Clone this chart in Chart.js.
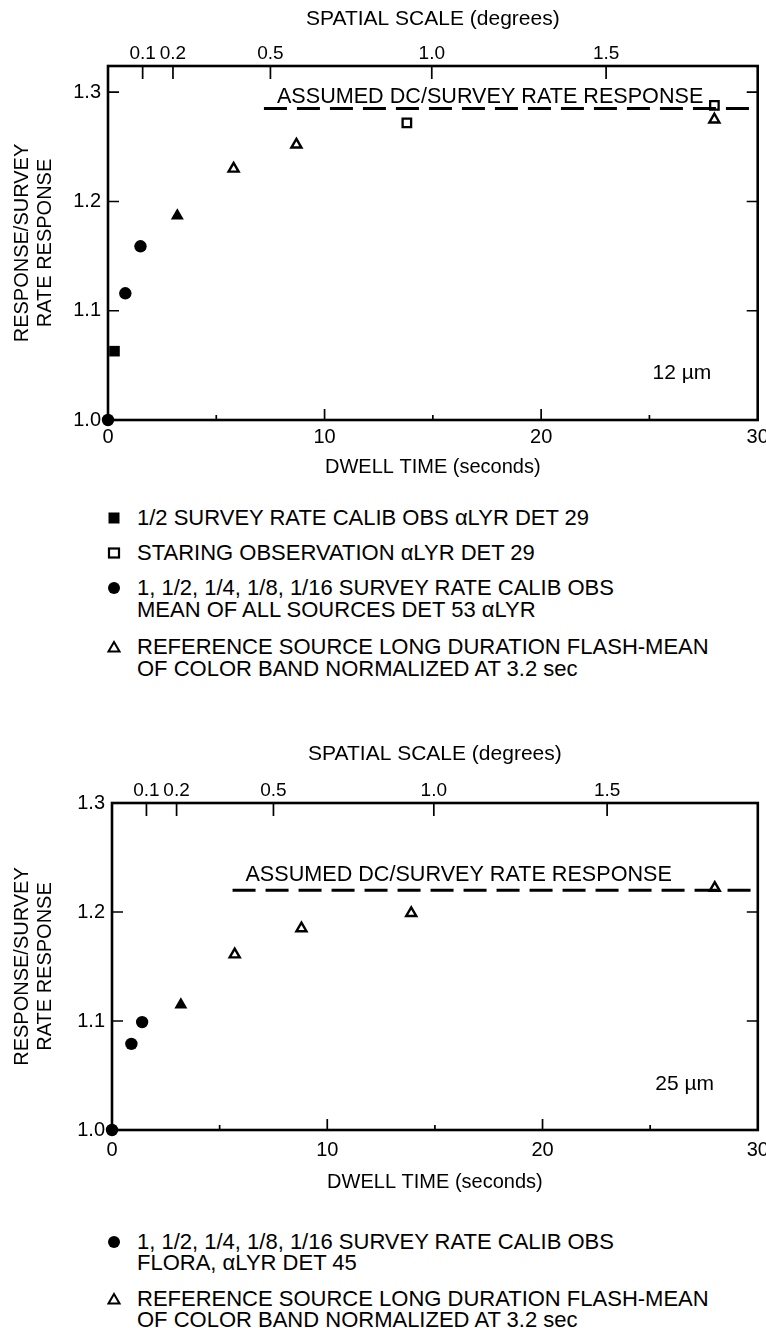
<!DOCTYPE html>
<html>
<head>
<meta charset="utf-8">
<script src="https://cdn.jsdelivr.net/npm/chart.js@4.4.1/dist/chart.umd.min.js"></script>
<style>
  body { margin: 0; background: #fff; width: 766px; height: 1328px; position: relative; overflow: hidden;
         font-family: 'Liberation Sans', Arial, Helvetica, sans-serif; color: #000; }
  canvas { position: absolute; left: 0; }
  .lg { position: absolute; left: 137px; font-size: 22px; line-height: 24px; white-space: nowrap; }
  .mk { position: absolute; left: 107px; width: 14px; height: 14px; }
</style>
</head>
<body>
<canvas id="c12" width="766" height="490" style="top:0px"></canvas>
<canvas id="c25" width="766" height="463" style="top:737px"></canvas>
<div id="legends"></div>
<script>
const FONT = "'Liberation Sans', Arial, Helvetica, sans-serif";

// axes (dwell time in seconds, response ratio)
const xMajorTicks = [0, 10, 20, 30];
const xMinorTicks = [5, 15, 25];
const yTicks = [1.0, 1.1, 1.2, 1.3];
// top axis: spatial scale labels and the dwell time where each sits
const spatialLabels = ['0.1', '0.2', '0.5', '1.0', '1.5'];
const spatialAtDwell = [1.6, 3.0, 7.5, 14.95, 23.0];

// 12 um panel
const halfRate12 = [{x: 0.3, y: 1.063}];
const staring12 = [{x: 13.8, y: 1.272}, {x: 28.0, y: 1.288}];
const surveyRates12 = [{x: 0, y: 1.0}, {x: 0.8, y: 1.116}, {x: 1.5, y: 1.159}];
const normPoint12 = [{x: 3.2, y: 1.187}];
const flash12 = [{x: 5.8, y: 1.230}, {x: 8.7, y: 1.252}, {x: 28.0, y: 1.275}];
const dcLevel12 = [{x: 7.2, y: 1.285}, {x: 30, y: 1.285}];

// 25 um panel
const surveyRates25 = [{x: 0, y: 1.0}, {x: 0.9, y: 1.079}, {x: 1.4, y: 1.099}];
const normPoint25 = [{x: 3.2, y: 1.115}];
const flash25 = [{x: 5.7, y: 1.161}, {x: 8.8, y: 1.185}, {x: 13.9, y: 1.199}, {x: 28.0, y: 1.222}];
const dcLevel25 = [{x: 5.6, y: 1.220}, {x: 30, y: 1.220}];

const dcText = 'ASSUMED DC/SURVEY RATE RESPONSE';

const legend12 = [
  {mark: 'filledSquare', lines: ['1/2 SURVEY RATE CALIB OBS \u03b1LYR DET 29']},
  {mark: 'openSquare', lines: ['STARING OBSERVATION \u03b1LYR DET 29']},
  {mark: 'filledCircle', lines: ['1, 1/2, 1/4, 1/8, 1/16 SURVEY RATE CALIB OBS', 'MEAN OF ALL SOURCES DET 53 \u03b1LYR']},
  {mark: 'openTriangle', lines: ['REFERENCE SOURCE LONG DURATION FLASH-MEAN', 'OF COLOR BAND NORMALIZED AT 3.2 sec']}
];
const legend25 = [
  {mark: 'filledCircle', lines: ['1, 1/2, 1/4, 1/8, 1/16 SURVEY RATE CALIB OBS', 'FLORA, \u03b1LYR DET 45']},
  {mark: 'openTriangle', lines: ['REFERENCE SOURCE LONG DURATION FLASH-MEAN', 'OF COLOR BAND NORMALIZED AT 3.2 sec']}
];

// frame, inward ticks and in-plot notes
const framePlugin = {
  id: 'frame',
  beforeDatasetsDraw(chart, args, o) {
    const {ctx, chartArea: a} = chart;
    const sx = chart.scales.x, sy = chart.scales.y, s2 = chart.scales.x2;
    ctx.save();
    ctx.strokeStyle = '#000';
    ctx.lineWidth = 2.6;
    ctx.strokeRect(a.left, a.top, a.width, a.height);
    ctx.lineWidth = 1.7;
    ctx.beginPath();
    xMajorTicks.slice(1, -1).forEach(v => { const p = sx.getPixelForValue(v); ctx.moveTo(p, a.bottom); ctx.lineTo(p, a.bottom - 11); });
    xMinorTicks.forEach(v => { const p = sx.getPixelForValue(v); ctx.moveTo(p, a.bottom); ctx.lineTo(p, a.bottom - 5); });
    spatialAtDwell.forEach(v => { const p = s2.getPixelForValue(v); ctx.moveTo(p, a.top); ctx.lineTo(p, a.top + 13); });
    yTicks.filter(v => v > sy.min && v < sy.max).forEach(v => {
      const p = sy.getPixelForValue(v);
      ctx.moveTo(a.left, p); ctx.lineTo(a.left + 11, p);
      ctx.moveTo(a.right, p); ctx.lineTo(a.right - 11, p);
    });
    ctx.stroke();
    ctx.fillStyle = '#000';
    ctx.font = '21.6px ' + FONT;
    ctx.textAlign = 'left';
    ctx.textBaseline = 'alphabetic';
    ctx.fillText(dcText, sx.getPixelForValue(o.dcTextAt[0]), sy.getPixelForValue(o.dcTextAt[1]));
    ctx.font = '21px ' + FONT;
    ctx.textAlign = 'center';
    ctx.textBaseline = 'middle';
    ctx.fillText(o.band, sx.getPixelForValue(o.bandAt[0]), sy.getPixelForValue(o.bandAt[1]));
    ctx.restore();
  }
};

function zeroPad(s) { s.paddingLeft = 0; s.paddingRight = 0; s.paddingTop = 0; s.paddingBottom = 0; }

function pts(data, style, r, filled, bw) {
  return {data, pointStyle: style, pointRadius: r, pointBorderWidth: bw || 0,
    pointBackgroundColor: filled ? '#000' : '#fff', pointBorderColor: '#000', clip: false, showLine: false};
}
function dashed(data) {
  return {data, showLine: true, borderColor: '#000', borderWidth: 3, borderDash: [23, 10], pointRadius: 0, clip: false};
}

function buildChart(id, box, datasets, notes) {
  const tickFont = {family: FONT, size: 20};
  return new Chart(document.getElementById(id), {
    type: 'scatter',
    data: {datasets},
    options: {
      responsive: false, animation: false, events: [],
      layout: {padding: {left: 0, right: box.padRight, top: 0, bottom: 0}},
      plugins: {legend: {display: false}, tooltip: {enabled: false}, frame: notes},
      scales: {
        x: {
          type: 'linear', position: 'bottom', min: 0, max: 30,
          grid: {display: false, drawTicks: false}, border: {display: false},
          afterBuildTicks: s => { s.ticks = xMajorTicks.map(v => ({value: v})); },
          ticks: {font: tickFont, color: '#000', padding: box.xTickPad, maxRotation: 0, autoSkip: false},
          title: {display: true, text: 'DWELL TIME (seconds)', font: {family: FONT, size: 20}, color: '#000', padding: {top: 0, bottom: box.xTitlePad}},
          afterFit: s => { s.height = box.xHeight; zeroPad(s); }
        },
        x2: {
          type: 'linear', position: 'top', min: 0, max: 30,
          grid: {display: false, drawTicks: false}, border: {display: false},
          afterBuildTicks: s => { s.ticks = spatialAtDwell.map(v => ({value: v})); },
          ticks: {font: {family: FONT, size: 19}, color: '#000', padding: box.topTickPad, maxRotation: 0, autoSkip: false,
                  callback: (v, i) => spatialLabels[i]},
          title: {display: true, text: 'SPATIAL SCALE (degrees)', font: {family: FONT, size: 21}, color: '#000', padding: {top: box.topTitlePad, bottom: 0}},
          afterFit: s => { s.height = box.topHeight; zeroPad(s); }
        },
        y: {
          type: 'linear', position: 'left', min: 1.0, max: box.yMax,
          grid: {display: false, drawTicks: false}, border: {display: false},
          afterBuildTicks: s => { s.ticks = yTicks.map(v => ({value: v})); },
          ticks: {font: tickFont, color: '#000', padding: 7, callback: v => v.toFixed(1)},
          title: {display: true, text: ['RESPONSE/SURVEY', 'RATE RESPONSE'], font: {family: FONT, size: 20, lineHeight: 1.15},
                  color: '#000', padding: {top: 11, bottom: 0}},
          afterFit: s => { s.width = box.yWidth; zeroPad(s); }
        }
      }
    },
    plugins: [framePlugin]
  });
}

buildChart('c12',
  {yWidth: 108, padRight: 5, yMax: 1.324, xHeight: 70, xTickPad: 5, xTitlePad: 11, topHeight: 66, topTickPad: 1, topTitlePad: 7},
  [
    dashed(dcLevel12),
    pts(halfRate12, 'rect', 7.5, true),
    pts(surveyRates12, 'circle', 6.2, true),
    pts(normPoint12, 'triangle', 7.5, true),
    pts(staring12, 'rect', 6, false, 2.3),
    pts(flash12, 'triangle', 5.8, false, 2.4)
  ],
  {dcTextAt: [7.8, 1.290], band: '12 \u00b5m', bandAt: [26.5, 1.043]}
);

buildChart('c25',
  {yWidth: 112, padRight: 3, yMax: 1.3, xHeight: 70, xTickPad: 8, xTitlePad: 6, topHeight: 66, topTickPad: 1, topTitlePad: 5},
  [
    dashed(dcLevel25),
    pts(surveyRates25, 'circle', 6.2, true),
    pts(normPoint25, 'triangle', 7.5, true),
    pts(flash25, 'triangle', 5.8, false, 2.4)
  ],
  {dcTextAt: [6.2, 1.228], band: '25 \u00b5m', bandAt: [26.6, 1.042]}
);

// legends below each panel
const markSvg = {
  filledSquare: '<svg width="14" height="14"><rect x="1.5" y="1.5" width="11" height="11" fill="#000"/></svg>',
  openSquare: '<svg width="14" height="14"><rect x="2" y="2.5" width="10" height="9" fill="none" stroke="#000" stroke-width="2.2"/></svg>',
  filledCircle: '<svg width="14" height="14"><circle cx="7" cy="7" r="6" fill="#000"/></svg>',
  openTriangle: '<svg width="14" height="14"><polygon points="7,2 12.5,11.5 1.5,11.5" fill="none" stroke="#000" stroke-width="2"/></svg>'
};
function renderLegend(items, firstLineY, step) {
  const host = document.getElementById('legends');
  items.forEach((item, i) => {
    const mk = document.createElement('div'); mk.className = 'mk';
    mk.style.top = (firstLineY[i] - 7) + 'px';
    mk.innerHTML = markSvg[item.mark];
    host.appendChild(mk);
    item.lines.forEach((line, j) => {
      const el = document.createElement('div'); el.className = 'lg';
      el.style.top = (firstLineY[i] + j * step - 12) + 'px';
      el.textContent = line;
      host.appendChild(el);
    });
  });
}
renderLegend(legend12, [518, 553, 588, 647], 21.5);
renderLegend(legend25, [1242, 1299], 21);
</script>
</body>
</html>
